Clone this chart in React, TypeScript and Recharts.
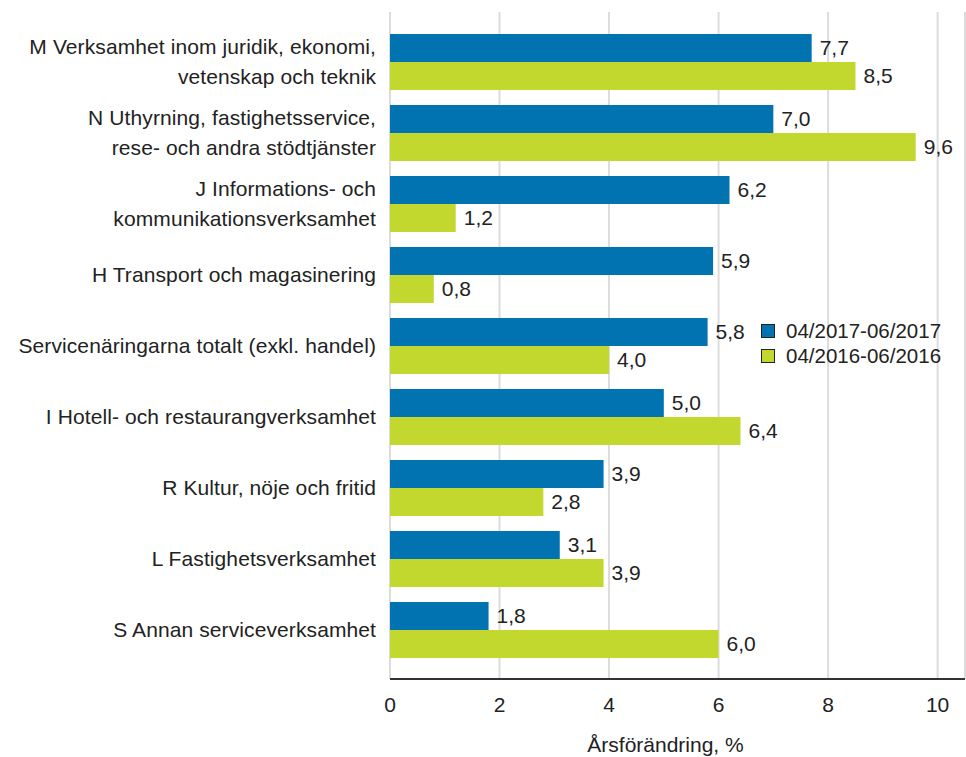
import React from "react";
import { BarChart, Bar, XAxis, YAxis, CartesianGrid, LabelList } from "recharts";

const categories = [
  "M Verksamhet inom juridik, ekonomi,\nvetenskap och teknik",
  "N Uthyrning, fastighetsservice,\nrese- och andra stödtjänster",
  "J Informations- och \nkommunikationsverksamhet",
  "H Transport och magasinering",
  "Servicenäringarna totalt (exkl. handel)",
  "I Hotell- och restaurangverksamhet",
  "R Kultur, nöje och fritid",
  "L Fastighetsverksamhet",
  "S Annan serviceverksamhet",
];
const series2017 = [7.7, 7.0, 6.2, 5.9, 5.8, 5.0, 3.9, 3.1, 1.8];
const series2016 = [8.5, 9.6, 1.2, 0.8, 4.0, 6.4, 2.8, 3.9, 6.0];
const xTicks = [0, 2, 4, 6, 8, 10];
const legendItems = ["04/2017-06/2017", "04/2016-06/2016"];

const BLUE = "#0073b0";
const GREEN = "#c2d82e";
const FONT = "'Liberation Sans', Arial, sans-serif";
const TEXT = "#222";
const FS = 21;

const data = categories.map((c, i) => ({ name: c, a: series2017[i], b: series2016[i] }));

const fmt = (v: any) => Number(v).toFixed(1).replace(".", ",");

function CatTick(props: any) {
  const { x, y, payload } = props;
  const lines = String(payload.value).split("\n");
  const lh = 30;
  const start = -((lines.length - 1) * lh) / 2;
  return (
    <g>
      {lines.map((l, i) => (
        <text key={i} x={x} y={y + start + i * lh} dy={7} textAnchor="end" fill={TEXT} fontSize={FS} fontFamily={FONT} letterSpacing={0.1}>
          {l}
        </text>
      ))}
    </g>
  );
}

function LegendBox() {
  const colors = [BLUE, GREEN];
  return (
    <div style={{ position: "absolute", left: 761, top: 318, fontFamily: FONT, fontSize: 20.5, color: TEXT }}>
      {legendItems.map((label, i) => (
        <div key={label} style={{ display: "flex", alignItems: "center", height: 25 }}>
          <div style={{ width: 12, height: 12, background: colors[i], border: "1px solid #222", marginRight: 11 }} />
          <span>{label}</span>
        </div>
      ))}
    </div>
  );
}

export default function App() {
  return (
    <div style={{ position: "absolute", left: 0, top: 0, width: 966, height: 757, background: "#fff" }}>
      <BarChart
        width={966}
        height={757}
        data={data}
        layout="vertical"
        margin={{ top: 12, right: 1, bottom: 0, left: 0 }}
        barGap={0}
        barSize={28}
      >
        <CartesianGrid horizontal={false} stroke="#dcdcdc" strokeWidth={2} />
        <XAxis
          type="number"
          domain={[0, 10.5]}
          ticks={xTicks}
          tickLine={false}
          axisLine={{ stroke: "#333", strokeWidth: 2 }}
          tick={{ fontSize: FS, fill: TEXT, fontFamily: FONT }}
          tickMargin={12}
          height={78}
          label={{ value: "Årsförändring, %", position: "insideBottom", offset: 5, dx: -12, fontSize: FS, fill: TEXT, fontFamily: FONT }}
        />
        <YAxis
          type="category"
          dataKey="name"
          width={390}
          axisLine={false}
          tickLine={false}
          tick={<CatTick />}
          tickMargin={8}
          padding={{ top: 14, bottom: 14 }}
          interval={0}
        />
        <Bar dataKey="a" fill={BLUE} isAnimationActive={false}>
          <LabelList dataKey="a" position="right" offset={8} formatter={fmt} fill={TEXT} fontSize={FS} fontFamily={FONT} />
        </Bar>
        <Bar dataKey="b" fill={GREEN} isAnimationActive={false}>
          <LabelList dataKey="b" position="right" offset={8} formatter={fmt} fill={TEXT} fontSize={FS} fontFamily={FONT} />
        </Bar>
      </BarChart>
      <LegendBox />
    </div>
  );
}
